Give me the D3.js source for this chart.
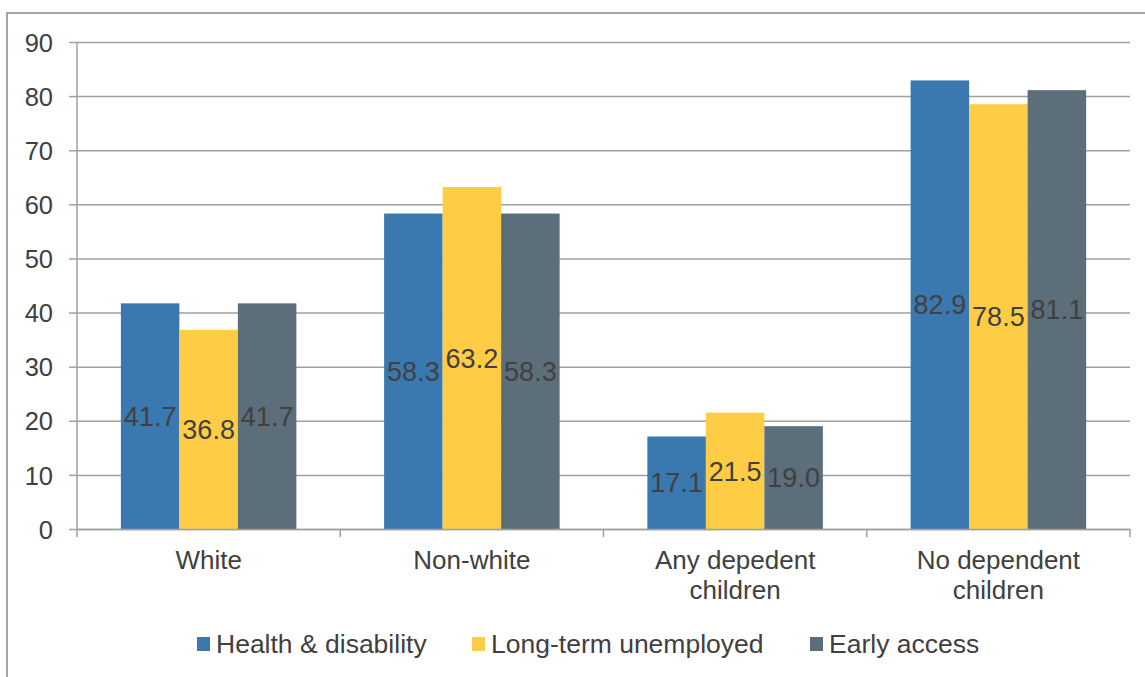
<!DOCTYPE html>
<html>
<head>
<meta charset="utf-8">
<script src="https://cdn.jsdelivr.net/npm/d3@7"></script>
<style>
  body { margin: 0; background: #fff; }
  svg { display: block; font-family: 'Liberation Sans', Arial, sans-serif; }
</style>
</head>
<body>
<div id="chart"></div>
<script>
const categories = ['White', 'Non-white', 'Any depedent\nchildren', 'No dependent\nchildren']
const seriesNames = ['Health & disability', 'Long-term unemployed', 'Early access']
const healthDisability = [41.7, 58.3, 17.1, 82.9]
const longTermUnemployed = [36.8, 63.2, 21.5, 78.5]
const earlyAccess = [41.7, 58.3, 19.0, 81.1]
const yTicks = [0, 10, 20, 30, 40, 50, 60, 70, 80, 90]
const colors = ['#3a78b0', '#ffcd45', '#5b6e7a']

const seriesValues = [healthDisability, longTermUnemployed, earlyAccess]
const data = categories.map((c, i) => ({
  category: c,
  values: seriesNames.map((s, j) => ({ key: s, value: seriesValues[j][i], color: colors[j] })),
}))

const width = 1145
const height = 677
const plotLeft = 77
const plotRight = 1130
const plotTop = 42
const plotBottom = 529
const gridColor = '#a0a0a0'
const textColor = '#404040'

const svg = d3.select('#chart').append('svg').attr('width', width).attr('height', height)

// outer frame (right and bottom edges fall outside the picture)
svg.append('rect')
  .attr('x', 7).attr('y', 13)
  .attr('width', width + 20).attr('height', height + 20)
  .attr('fill', 'none').attr('stroke', '#a6a6a6').attr('stroke-width', 2)

const xScale = d3.scaleBand().domain(categories).range([plotLeft, plotRight]).padding(0)
const xInner = d3.scaleBand().domain(seriesNames).range([0, xScale.bandwidth()])
  .paddingInner(0).paddingOuter(0.75)
const yScale = d3.scaleLinear().domain([0, 90]).range([plotBottom, plotTop])

// grid + y axis
const yAxis = d3.axisLeft(yScale).tickValues(yTicks).tickSize(-(plotRight - plotLeft)).tickPadding(0)
svg.append('g')
  .attr('transform', `translate(${plotLeft},0)`)
  .call(yAxis)
  .call(g => g.select('.domain').remove())
  .call(g => {
    g.selectAll('.tick line').attr('stroke', gridColor).attr('stroke-width', 1.5)
    g.selectAll('.tick').append('line')
      .attr('x1', -8).attr('x2', 0)
      .attr('stroke', gridColor).attr('stroke-width', 1.5)
    g.selectAll('.tick text')
      .attr('x', -24)
      .attr('dy', '0.36em')
      .attr('fill', textColor)
      .style('font-size', '25.5px')
      .style('font-family', "'Liberation Sans', Arial, sans-serif")
  })

// bars
const groups = svg.append('g').selectAll('g')
  .data(data)
  .join('g')
  .attr('transform', d => `translate(${xScale(d.category)},0)`)

groups.selectAll('rect')
  .data(d => d.values)
  .join('rect')
  .attr('x', d => xInner(d.key))
  .attr('y', d => yScale(d.value))
  .attr('width', xInner.bandwidth())
  .attr('height', d => yScale(0) - yScale(d.value))
  .attr('fill', d => d.color)

groups.selectAll('text')
  .data(d => d.values)
  .join('text')
  .attr('x', d => xInner(d.key) + xInner.bandwidth() / 2)
  .attr('y', d => (yScale(d.value) + yScale(0)) / 2)
  .attr('dy', '0.36em')
  .attr('text-anchor', 'middle')
  .attr('fill', textColor)
  .style('font-size', '27px')
  .text(d => d.value.toFixed(1))

// y axis line
svg.append('line')
  .attr('x1', plotLeft).attr('x2', plotLeft)
  .attr('y1', plotTop).attr('y2', plotBottom)
  .attr('stroke', gridColor).attr('stroke-width', 1.5)

// x axis
const xAxis = d3.axisBottom(xScale).tickSize(0).tickFormat('')
svg.append('g')
  .attr('transform', `translate(0,${plotBottom})`)
  .call(xAxis)
  .call(g => g.select('.domain').attr('stroke', gridColor).attr('stroke-width', 1.5))

const boundaries = categories.map(c => xScale(c)).concat([plotRight])
svg.append('g').selectAll('line')
  .data(boundaries)
  .join('line')
  .attr('x1', d => d).attr('x2', d => d)
  .attr('y1', plotBottom).attr('y2', plotBottom + 8)
  .attr('stroke', gridColor).attr('stroke-width', 1.5)

svg.append('g').selectAll('text')
  .data(categories)
  .join('text')
  .attr('x', d => xScale(d) + xScale.bandwidth() / 2)
  .attr('y', 569)
  .attr('text-anchor', 'middle')
  .attr('fill', textColor)
  .style('font-size', '26px')
  .each(function (d) {
    d3.select(this).selectAll('tspan')
      .data(d.split('\n'))
      .join('tspan')
      .attr('x', xScale(d) + xScale.bandwidth() / 2)
      .attr('dy', (t, i) => (i === 0 ? 0 : 30))
      .text(t => t)
  })

// legend
const legendX = [197, 472, 810]
const legend = svg.append('g').selectAll('g')
  .data(seriesNames)
  .join('g')
  .attr('transform', (d, i) => `translate(${legendX[i]},637)`)

legend.append('rect')
  .attr('width', 13).attr('height', 14)
  .attr('fill', (d, i) => colors[i])

legend.append('text')
  .attr('x', 19)
  .attr('y', 16)
  .attr('fill', textColor)
  .style('font-size', '26.5px')
  .text(d => d)
</script>
</body>
</html>
